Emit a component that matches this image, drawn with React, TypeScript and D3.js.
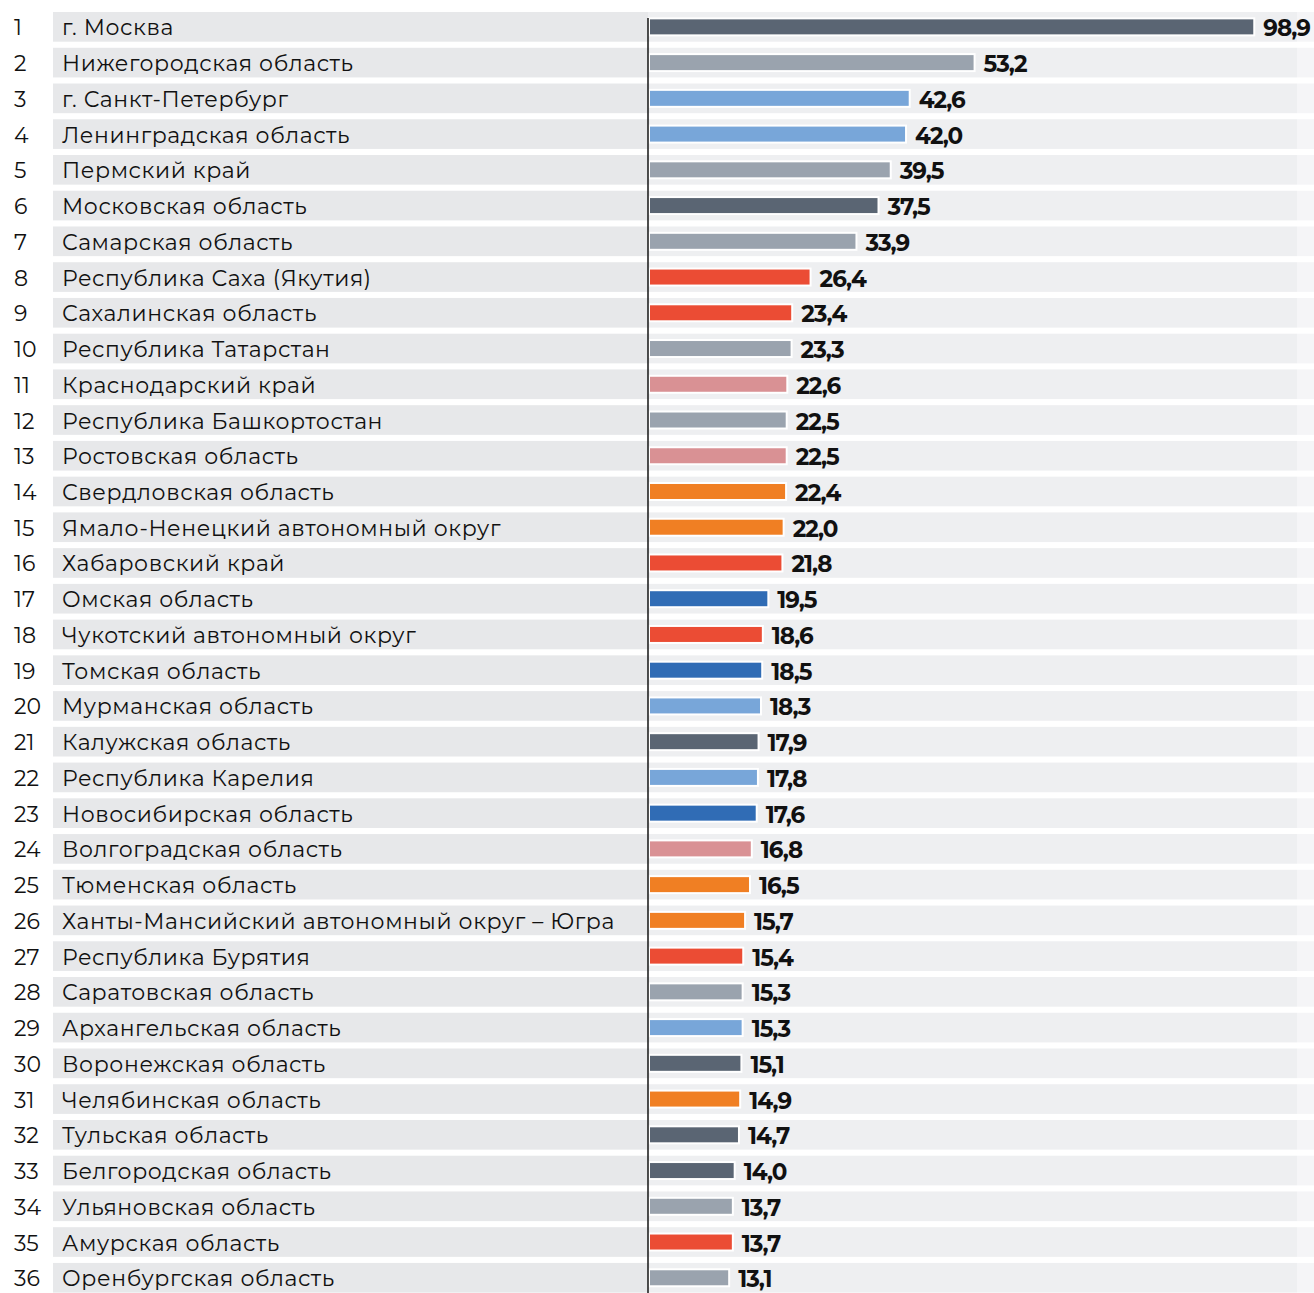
import React from "react";
import * as d3 from "d3";

const regions = [
  "г. Москва",
  "Нижегородская область",
  "г. Санкт-Петербург",
  "Ленинградская область",
  "Пермский край",
  "Московская область",
  "Самарская область",
  "Республика Саха (Якутия)",
  "Сахалинская область",
  "Республика Татарстан",
  "Краснодарский край",
  "Республика Башкортостан",
  "Ростовская область",
  "Свердловская область",
  "Ямало-Ненецкий автономный округ",
  "Хабаровский край",
  "Омская область",
  "Чукотский автономный округ",
  "Томская область",
  "Мурманская область",
  "Калужская область",
  "Республика Карелия",
  "Новосибирская область",
  "Волгоградская область",
  "Тюменская область",
  "Ханты-Мансийский автономный округ – Югра",
  "Республика Бурятия",
  "Саратовская область",
  "Архангельская область",
  "Воронежская область",
  "Челябинская область",
  "Тульская область",
  "Белгородская область",
  "Ульяновская область",
  "Амурская область",
  "Оренбургская область",
];

const values = [
  98.9, 53.2, 42.6, 42.0, 39.5, 37.5, 33.9, 26.4, 23.4, 23.3, 22.6, 22.5, 22.5,
  22.4, 22.0, 21.8, 19.5, 18.6, 18.5, 18.3, 17.9, 17.8, 17.6, 16.8, 16.5, 15.7,
  15.4, 15.3, 15.3, 15.1, 14.9, 14.7, 14.0, 13.7, 13.7, 13.1,
];

const groups = [
  "dark", "gray", "lblue", "lblue", "gray", "dark", "gray", "red", "red", "gray",
  "pink", "gray", "pink", "orange", "orange", "red", "blue", "red", "blue", "lblue",
  "dark", "lblue", "blue", "pink", "orange", "orange", "red", "gray", "lblue", "dark",
  "orange", "dark", "dark", "gray", "red", "gray",
];

const groupKeys = ["dark", "gray", "lblue", "red", "pink", "orange", "blue"];
const groupColors = ["#5a6573", "#9aa3ae", "#78a6d9", "#eb4c34", "#d99194", "#f07f23", "#306cb5"];

const W = 1314;
const H = 1293;

export default function App() {
  const ranks = regions.map((_, i) => String(i + 1));
  const step = 35.74;
  const y = d3
    .scaleBand<string>()
    .domain(ranks)
    .range([9, 9 + step * regions.length])
    .paddingInner(0.17)
    .paddingOuter(0.085);
  const x = d3.scaleLinear().domain([0, 100]).range([649, 649 + 612]);
  const color = d3.scaleOrdinal<string, string>().domain(groupKeys).range(groupColors);
  const fmt = (v: number) => v.toFixed(1).replace(".", ",");
  const barH = 17;
  const font = "Montserrat, 'Noto Sans', sans-serif";

  return (
    <svg
      width={W}
      height={H}
      style={{ position: "absolute", left: 0, top: 0, background: "#fff" }}
    >
      {regions.map((r, i) => {
        const k = ranks[i];
        const top = y(k)!;
        const bw = y.bandwidth();
        const cy = top + bw / 2;
        const v = values[i];
        return (
          <g key={k}>
            <rect x={53} y={top} width={648 - 53} height={bw} fill="#e7e8ea" />
            <rect x={648} y={top} width={1297 - 648} height={bw} fill="#eeeff1" />
            <rect x={1297} y={top} width={W - 1297} height={bw} fill="#f5f5f7" />
            <text
              x={14}
              y={cy + 1}
              dominantBaseline="central"
              fontFamily={font}
              fontSize={22}
              fill="#111"
            >
              {k}
            </text>
            <text
              x={62}
              y={cy + 1}
              dominantBaseline="central"
              fontFamily={font}
              fontSize={22}
              fill="#111"
              letterSpacing={0.6}
            >
              {r}
            </text>
            <rect
              x={x(0)}
              y={cy - barH / 2}
              width={x(v) - x(0)}
              height={barH}
              fill={color(groups[i])}
              stroke="#fff"
              strokeWidth={2}
            />
            <text
              x={x(v) + 9}
              y={cy + 1.5}
              dominantBaseline="central"
              fontFamily={font}
              fontSize={23}
              fontWeight={700}
              letterSpacing={-1}
              fill="#111"
            >
              {fmt(v)}
            </text>
          </g>
        );
      })}
      <line x1={648} x2={648} y1={18} y2={H} stroke="#222" strokeWidth={1.6} />
    </svg>
  );
}
